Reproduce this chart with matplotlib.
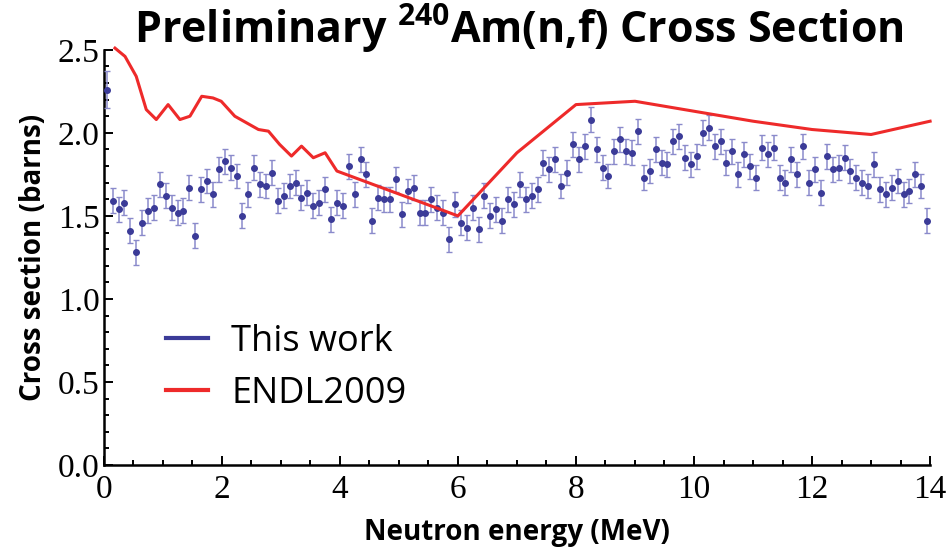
import numpy as np
import matplotlib
matplotlib.use("Agg")
import matplotlib.pyplot as plt
from matplotlib.ticker import MultipleLocator

# measured points (This work), 0.1 MeV bins
energy = [0.05, 0.15, 0.25, 0.35, 0.45, 0.55, 0.65, 0.75, 0.85, 0.95,
          1.05, 1.15, 1.25, 1.35, 1.45, 1.55, 1.65, 1.75, 1.85, 1.95,
          2.05, 2.15, 2.25, 2.35, 2.45, 2.55, 2.65, 2.75, 2.85, 2.95,
          3.05, 3.15, 3.25, 3.35, 3.45, 3.55, 3.65, 3.75, 3.85, 3.95,
          4.05, 4.15, 4.25, 4.35, 4.45, 4.55, 4.65, 4.75, 4.85, 4.95,
          5.05, 5.15, 5.25, 5.35, 5.45, 5.55, 5.65, 5.75, 5.85, 5.95,
          6.05, 6.15, 6.25, 6.35, 6.45, 6.55, 6.65, 6.75, 6.85, 6.95,
          7.05, 7.15, 7.25, 7.35, 7.45, 7.55, 7.65, 7.75, 7.85, 7.95,
          8.05, 8.15, 8.25, 8.35, 8.45, 8.55, 8.65, 8.75, 8.85, 8.95,
          9.05, 9.15, 9.25, 9.35, 9.45, 9.55, 9.65, 9.75, 9.85, 9.95,
          10.05, 10.15, 10.25, 10.35, 10.45, 10.55, 10.65, 10.75, 10.85, 10.95,
          11.05, 11.15, 11.25, 11.35, 11.45, 11.55, 11.65, 11.75, 11.85, 11.95,
          12.05, 12.15, 12.25, 12.35, 12.45, 12.55, 12.65, 12.75, 12.85, 12.95,
          13.05, 13.15, 13.25, 13.35, 13.45, 13.55, 13.65, 13.75, 13.85, 13.95]
sigma = [2.26, 1.59, 1.54, 1.58, 1.41, 1.28, 1.46, 1.53, 1.55, 1.69,
         1.62, 1.55, 1.52, 1.53, 1.67, 1.38, 1.66, 1.71, 1.63, 1.78,
         1.83, 1.79, 1.74, 1.50, 1.63, 1.79, 1.69, 1.68, 1.76, 1.59,
         1.62, 1.68, 1.70, 1.61, 1.64, 1.56, 1.58, 1.66, 1.48, 1.58,
         1.56, 1.80, 1.63, 1.84, 1.75, 1.47, 1.61, 1.60, 1.60, 1.72,
         1.51, 1.65, 1.67, 1.52, 1.52, 1.60, 1.55, 1.52, 1.36, 1.57,
         1.46, 1.43, 1.55, 1.42, 1.62, 1.50, 1.54, 1.47, 1.60, 1.57,
         1.69, 1.60, 1.62, 1.66, 1.82, 1.78, 1.84, 1.68, 1.76, 1.93,
         1.84, 1.92, 2.08, 1.90, 1.79, 1.74, 1.89, 1.96, 1.89, 1.88,
         2.01, 1.73, 1.77, 1.90, 1.82, 1.81, 1.95, 1.98, 1.85, 1.81,
         1.86, 2.00, 2.03, 1.92, 1.95, 1.82, 1.89, 1.75, 1.87, 1.80,
         1.73, 1.91, 1.87, 1.91, 1.73, 1.70, 1.84, 1.75, 1.92, 1.70,
         1.78, 1.64, 1.86, 1.78, 1.79, 1.85, 1.77, 1.73, 1.70, 1.68,
         1.81, 1.66, 1.63, 1.67, 1.71, 1.63, 1.65, 1.75, 1.68, 1.47]
sigma_err = [0.11] + [0.075] * 139

# ENDL2009 evaluation
endl_e = [0.19, 0.36, 0.55, 0.72, 0.89, 1.09, 1.29, 1.46, 1.66, 1.85,
          1.99, 2.22, 2.42, 2.62, 2.79, 2.98, 3.18, 3.35, 3.55, 3.75,
          3.95, 6.0, 7.0, 8.0, 9.0, 10.0, 11.0, 12.0, 13.0, 14.0]
endl_xs = [2.51, 2.46, 2.34, 2.14, 2.08, 2.17, 2.08, 2.10, 2.22, 2.21,
           2.19, 2.10, 2.06, 2.02, 2.01, 1.93, 1.86, 1.92, 1.85, 1.88,
           1.77, 1.50, 1.88, 2.17, 2.19, 2.13, 2.07, 2.02, 1.99, 2.07]

navy = "#3b3b98"
navy_light = "#8a8acb"
red = "#ee2a2a"

plt.rcParams["mathtext.fontset"] = "custom"
plt.rcParams["mathtext.rm"] = "Open Sans"
plt.rcParams["mathtext.bf"] = "Open Sans:bold"

fig = plt.figure(figsize=(9.52, 5.53), dpi=100)
ax = fig.add_axes([0.109, 0.159, 0.868, 0.751])

# data with error bars
ax.errorbar(energy, sigma, yerr=sigma_err, fmt="o", ms=4, color=navy,
            ecolor=navy_light, elinewidth=1.1, capsize=2.5, capthick=1.0,
            zorder=3, clip_on=False)
ax.plot(endl_e, endl_xs, color=red, lw=2.2, zorder=4, clip_on=False)

ax.set_xlim(0, 14)
ax.set_ylim(0, 2.5)
ax.xaxis.set_major_locator(MultipleLocator(2))
ax.xaxis.set_minor_locator(MultipleLocator(0.5))
ax.yaxis.set_major_locator(MultipleLocator(0.5))
ax.yaxis.set_minor_locator(MultipleLocator(0.1))
ax.tick_params(which="both", direction="in", width=1.4, color="black")
ax.tick_params(which="major", length=6.5)
ax.tick_params(which="minor", length=3.5)
ax.tick_params(axis="x", pad=7)
ax.tick_params(axis="y", pad=3)
for lab in ax.get_xticklabels() + ax.get_yticklabels():
    lab.set_fontfamily("Liberation Serif")
    lab.set_fontsize(24)
ax.yaxis.set_major_formatter(plt.FuncFormatter(lambda v, p: f"{v:.1f}"))
for side in ["top", "right"]:
    ax.spines[side].set_visible(False)
for side in ["left", "bottom"]:
    ax.spines[side].set_linewidth(1.8)

ax.set_xlabel("Neutron energy (MeV)", fontfamily="Open Sans", fontweight="bold",
              fontsize=20, labelpad=9)
ax.set_ylabel("Cross section (barns)", fontfamily="Open Sans", fontweight="bold",
              fontsize=20, labelpad=7)

# legend
ax.plot([], [], color=navy, lw=3, label="This work")
ax.plot([], [], color=red, lw=3, label="ENDL2009")
handles, labels = ax.get_legend_handles_labels()
ax.legend(handles[-2:], labels[-2:], loc="upper left", bbox_to_anchor=(0.075, 0.34),
          frameon=False, prop={"family": "Open Sans", "size": 26}, borderpad=0,
          borderaxespad=0, handlelength=1.17, handletextpad=0.64, labelspacing=0.45)

fig.text(0.545, 1 - 43 / 553, r"Preliminary $^{\mathbf{240}}$Am(n,f) Cross Section",
         ha="center", va="baseline", fontfamily="Open Sans", fontweight="bold",
         fontsize=31)

fig.savefig("out.png", dpi=100)
